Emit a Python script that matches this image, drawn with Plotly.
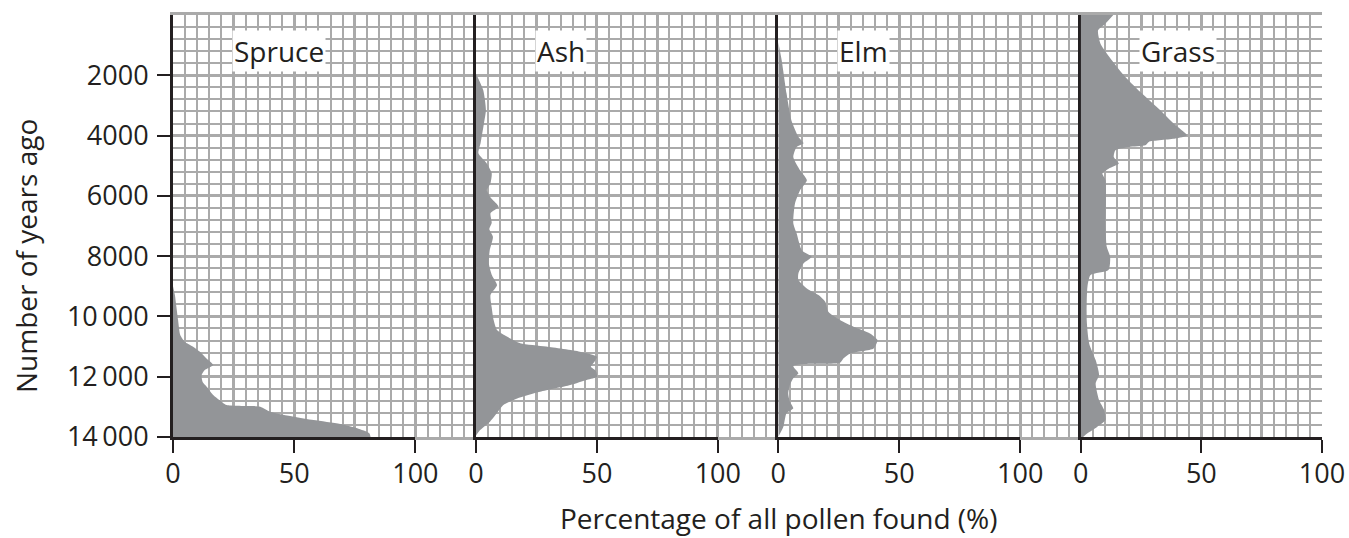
import plotly.graph_objects as go

# ---------------- data ----------------
taxa = ["Spruce", "Ash", "Elm", "Grass"]

spruce_years = [9000, 9300, 9680, 10120, 10620, 10840, 11006, 11172, 11392, 11613,
                11779, 11945, 12166, 12387, 12608, 12774, 12940, 12995, 13160, 13326,
                13437, 13570, 13713, 13879, 14000]
spruce_pct = [0, 0.8, 1.4, 2.1, 3.0, 4.8, 8.3, 11.1, 13.8, 16.6,
              13.1, 11.8, 12.2, 14.5, 16.6, 19.1, 22.1, 36.0, 40.1, 49.8,
              58.0, 69.0, 76.0, 81.0, 81.5]

ash_years = [1950, 2500, 3160, 3590, 4250, 4590, 4920, 5250, 5580, 5810,
             6100, 6360, 6575, 6900, 7100, 7360, 7800, 8240, 8630, 8960,
             9290, 9700, 10120, 10450, 10670, 10890, 11000, 11170, 11340, 11500,
             11670, 11800, 12000, 12100, 12277, 12500, 12720, 12940, 13216, 13492,
             13770, 13950]
ash_pct = [0, 3.0, 4.1, 3.3, 1.9, 1.0, 4.4, 6.5, 6.0, 4.5,
           6.5, 9.3, 6.0, 6.5, 5.5, 7.0, 5.7, 5.3, 6.6, 8.7,
           6.0, 6.5, 7.3, 8.7, 12.8, 18.3, 29.0, 43.0, 50.0, 49.0,
           47.5, 49.5, 50.0, 46.0, 39.0, 26.5, 17.0, 11.3, 8.6, 5.8,
           1.7, 0]

elm_years = [900, 1500, 2600, 3490, 4040, 4255, 4376, 4707, 5149, 5480,
             5812, 6254, 6906, 7249, 7801, 8022, 8243, 8574, 8795, 9072,
             9293, 9514, 9846, 10122, 10343, 10564, 10785, 11060, 11226, 11392,
             11537, 11581, 11650, 11889, 12055, 12277, 12553, 12829, 13050, 13216,
             13658, 13990]
elm_pct = [0, 1.4, 3.4, 5.4, 8.3, 10.4, 7.6, 6.2, 9.0, 11.8,
           9.0, 6.9, 6.2, 7.6, 9.7, 13.8, 10.4, 8.3, 8.3, 11.8,
           16.6, 19.4, 20.7, 25.5, 31.1, 37.9, 41.0, 39.4, 29.7, 26.9,
           25.5, 10.4, 6.2, 8.3, 6.2, 4.8, 4.1, 4.8, 6.2, 3.4,
           2.1, 0]

grass_years = [0, 290, 510, 950, 1500, 2055, 2607, 3160, 3600, 3990,
               4100, 4210, 4320, 4376, 4486, 4707, 4928, 5094, 5260, 5481,
               7016, 7691, 8022, 8463, 8629, 9017, 10122, 10895, 11448, 11945,
               12221, 12774, 13106, 13437, 13658, 13879, 14000]
grass_pct = [13.5, 10.2, 7.2, 8.2, 12.9, 18.5, 25.4, 33.0, 38.5, 44.0,
             39.2, 28.2, 26.8, 19.9, 14.4, 13.7, 15.8, 11.7, 9.0, 10.3,
             10.3, 10.8, 12.2, 11.5, 4.1, 2.8, 2.5, 3.5, 6.2, 7.6,
             6.2, 7.6, 9.7, 10.3, 6.9, 2.8, 1.0]

series_years = [spruce_years, ash_years, elm_years, grass_years]
series_pct = [spruce_pct, ash_pct, elm_pct, grass_pct]

y_tick_vals = [2000, 4000, 6000, 8000, 10000, 12000, 14000]
y_tick_text = ["2000", "4000", "6000", "8000", "10\u2009000", "12\u2009000", "14\u2009000"]
x_tick_vals = [0, 50, 100]
x_tick_text = ["0", "50", "100"]
x_grid_major = [0, 25, 50, 75, 100, 125]
panel_max = [125, 125, 125, 100]

# ---------------- style ----------------
FONT = "Open Sans"
DARK = "#231f20"
GRID = "#aaaaaa"
FILL = "#939598"
FS_TICK = 27
FS = 28
GW_MAJOR = 3.4
GW_MINOR = 2.0

W, H = 1349, 538
ML, MR, MT, MB = 173, 27, 15, 101
PW = W - ML - MR
PH = H - MT - MB
panel_px = [173.3, 476.0, 778.3, 1080.7, 1322.0]
doms = [((panel_px[i] - ML) / PW, min(1.0, (panel_px[i + 1] - ML) / PW)) for i in range(4)]
doms[0] = (0.0, doms[0][1])

fig = go.Figure()
layout = dict(
    template="none",
    width=W, height=H,
    margin=dict(l=ML, r=MR, t=MT, b=MB, autoexpand=False),
    paper_bgcolor="white", plot_bgcolor="rgba(0,0,0,0)",
    showlegend=False,
    font=dict(family=FONT, size=FS, color=DARK),
)

annotations = []
for i in range(4):
    n = i + 1
    gx = "x" if n == 1 else f"x{n}"
    yy = "y" if n == 1 else f"y{n}"
    tx = f"x{n + 4}"
    a, b = doms[i]
    R = panel_max[i]
    # grid x axis
    layout["xaxis" if n == 1 else f"xaxis{n}"] = dict(
        domain=[a, b], range=[0, R], anchor=yy, automargin=False,
        tickmode="array", tickvals=x_grid_major, ticks="", showticklabels=False,
        showgrid=True, gridcolor=GRID, gridwidth=GW_MAJOR,
        minor=dict(dtick=5, tick0=0, showgrid=True, gridcolor=GRID, gridwidth=GW_MINOR, ticks=""),
        showline=True, mirror=True, linecolor=GRID, linewidth=3,
        zeroline=False, fixedrange=True,
    )
    # tick x axis (0..100 only)
    layout[f"xaxis{n + 4}"] = dict(
        domain=[a, a + (b - a) * 100 / R], range=[0, 100], anchor=yy, automargin=False,
        tickmode="array", tickvals=x_tick_vals, ticktext=x_tick_text,
        ticks="outside", ticklen=13, tickwidth=2, tickcolor=DARK,
        ticklabelstandoff=-2,
        showline=True, linecolor=DARK, linewidth=3,
        showgrid=False, zeroline=False, fixedrange=True,
        tickfont=dict(family=FONT, size=FS_TICK, color=DARK),
    )
    # y axis
    ydict = dict(
        domain=[0, 1], range=[14000, 0], anchor=gx, automargin=False,
        tickmode="array", tickvals=y_tick_vals,
        showgrid=True, gridcolor=GRID, gridwidth=GW_MAJOR,
        minor=dict(dtick=400, tick0=0, showgrid=True, gridcolor=GRID, gridwidth=GW_MINOR, ticks=""),
        showline=True, linecolor=DARK, linewidth=3,
        zeroline=False, fixedrange=True,
    )
    if n == 1:
        ydict.update(ticks="outside", ticklen=13, tickwidth=2, tickcolor=DARK,
                     ticktext=y_tick_text, showticklabels=True, ticklabelstandoff=3,
                     tickfont=dict(family=FONT, size=FS_TICK, color=DARK))
    else:
        ydict.update(ticks="", showticklabels=False)
    layout["yaxis" if n == 1 else f"yaxis{n}"] = ydict

    # empty trace to register grid subplot
    fig.add_trace(go.Scatter(x=[], y=[], xaxis=gx, yaxis=yy, hoverinfo="skip"))
    # pollen profile
    fig.add_trace(go.Scatter(
        x=series_pct[i], y=series_years[i], xaxis=tx, yaxis=yy,
        mode="lines", fill="tozerox", fillcolor=FILL,
        line=dict(width=0, color=FILL, shape="spline", smoothing=0.6),
        hoverinfo="skip",
    ))
    annotations.append(dict(
        text=taxa[i], xref=gx, yref=yy, x=24.3, y=1200,
        xanchor="left", yanchor="middle", showarrow=False,
        bgcolor="white", borderpad=1,
        font=dict(family=FONT, size=FS, color=DARK),
    ))

annotations.append(dict(
    text="Number of years ago", xref="paper", yref="paper",
    x=(26 - ML) / PW, y=1 - (256 - MT) / PH, xanchor="center", yanchor="middle",
    textangle=-90, showarrow=False, font=dict(family=FONT, size=FS, color=DARK),
))
annotations.append(dict(
    text="Percentage of all pollen found (%)", xref="paper", yref="paper",
    x=(779 - ML) / PW, y=-(518 - (H - MB)) / PH,
    xanchor="center", yanchor="middle", showarrow=False,
    font=dict(family=FONT, size=FS, color=DARK),
))
layout["annotations"] = annotations
fig.update_layout(**layout)
fig.write_html("out.html", config={"displayModeBar": False},
               post_script="document.body.style.margin='0';document.body.style.overflow='hidden';")
